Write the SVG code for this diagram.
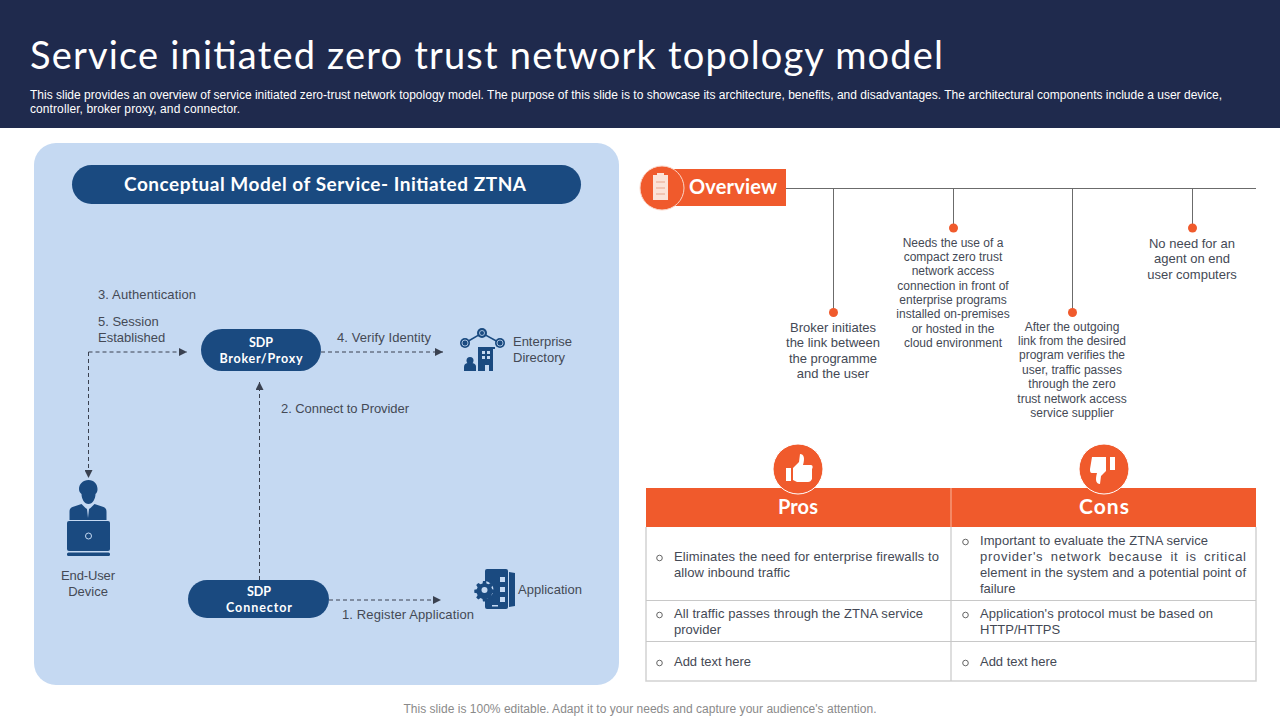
<svg xmlns="http://www.w3.org/2000/svg" width="1280" height="720" viewBox="0 0 1280 720">
<style>
text{font-family:"Liberation Sans",Arial,sans-serif;fill:#444955;font-size:13px}
.s{font-size:12px}
.c{text-anchor:middle}
.b{font-family:Lato,"Open Sans",sans-serif;font-weight:700;fill:#fff}
.ic{fill:#1a4a80}
.dash{fill:none;stroke:#3a4150;stroke-width:1;stroke-dasharray:4 3}
.ln{fill:none;stroke:#6b6b6b;stroke-width:1}
.gr{fill:none;stroke:#d2d2d2;stroke-width:1.5}
.dot{fill:#f05a2c}
.bul{fill:none;stroke:#555;stroke-width:.9}
</style>
<defs>
<marker id="a" markerWidth="8" markerHeight="8" refX="8" refY="4" orient="auto" markerUnits="userSpaceOnUse"><path d="M0 0L8 4L0 8Z" fill="#3a4150"/></marker>
</defs>
<rect width="1280" height="720" fill="#fff"/>
<g id="header">
<rect width="1280" height="128" fill="#1f2a4d"/>
<text x="30" y="69" textLength="913" lengthAdjust="spacing" style="font-family:Lato,sans-serif;font-weight:400;font-size:38px;fill:#fff">Service initiated zero trust network topology model</text>
<text x="30" y="99" textLength="1192" style="fill:#fff;font-size:12px">This slide provides an overview of service initiated zero-trust network topology model. The purpose of this slide is to showcase its architecture, benefits, and disadvantages. The architectural components include a user device,</text>
<text x="30" y="113" textLength="210" style="fill:#fff;font-size:12px">controller, broker proxy,  and connector.</text>
</g>
<g id="panel">
<rect x="34" y="143" width="585" height="542" rx="22" fill="#c5d9f2"/>
<rect x="72" y="165" width="509" height="39" rx="19.5" fill="#1a4a80"/>
<text class="c b" x="325" y="191" style="font-size:19px" textLength="402">Conceptual Model of Service- Initiated ZTNA</text>
</g>
<g id="connectors">
<path class="dash" d="M88.500 352V478" marker-end="url(#a)"/>
<path class="dash" d="M88.500 352H187" marker-end="url(#a)"/>
<path class="dash" d="M321 352H443" marker-end="url(#a)"/>
<path class="dash" d="M259.500 580V382" marker-end="url(#a)"/>
<path class="dash" d="M329 600H441" marker-end="url(#a)"/>
</g>
<g id="labels">
<text x="98" y="299" textLength="98">3. Authentication</text>
<text x="98" y="326">5. Session</text>
<text x="98" y="342">Established</text>
<text x="337" y="342" textLength="94">4. Verify Identity</text>
<text x="281" y="413" textLength="128">2. Connect to Provider</text>
<text x="342" y="619" textLength="132">1. Register Application</text>
</g>
<g id="broker">
<rect x="201" y="329" width="120" height="42" rx="21" fill="#1a4a80"/>
<text class="c b" x="261" y="347" style="font-size:12.500px" textLength="24">SDP</text>
<text class="c b" x="261" y="363" style="font-size:12.500px" textLength="83">Broker/Proxy</text>
</g>
<g id="connector-node">
<rect x="188" y="580" width="141" height="38" rx="19" fill="#1a4a80"/>
<text class="c b" x="259" y="596" style="font-size:12.500px" textLength="24">SDP</text>
<text class="c b" x="259" y="612" style="font-size:12.500px" textLength="66">Connector</text>
</g>
<g id="directory">
<path d="M465 343L482 333L500 343" fill="none" stroke="#1a4a80" stroke-width="1.500"/>
<g class="ic">
<circle cx="482" cy="333" r="5"/>
<circle cx="465" cy="343" r="5"/>
<circle cx="500" cy="343" r="5"/>
<path d="M478 347h17v2h-2v22h-4v-6h-4v6h-7z"/>
<path d="M464 371v-4c0-3 2-4 4-4h3c3 0 5 1 5 4v4z"/>
<circle cx="470" cy="360.500" r="3.500"/>
</g>
<path d="M482 351h3v3h-3zM487 351h3v3h-3zM482 356h3v3h-3zM487 356h3v3h-3z" fill="#c5d9f2"/>
<g fill="none" stroke="#c5d9f2" stroke-width=".8">
<circle cx="482" cy="333" r="2.500"/>
<circle cx="465" cy="343" r="3"/>
<circle cx="500" cy="343" r="3"/>
</g>
<text x="513" y="346" textLength="59">Enterprise</text>
<text x="513" y="362" textLength="52">Directory</text>
</g>
<g id="application">
<path class="ic" d="M509 572l6 1v33l-6 1z"/>
<rect class="ic" x="485" y="569" width="23" height="40" rx="2"/>
<path fill="#c5d9f2" d="M500 577h5v5h-5zM500 587h5v5h-5zM500 597h5v5h-5zM492 605h6v1.500h-6z"/>
<circle cx="484.500" cy="590" r="9" fill="#c5d9f2"/>
<path class="ic" d="M483 581h3l.5 2.500 2 .8 2.200-1.400 2.100 2.100-1.400 2.200.8 2 2.500.5v3l-2.500.5-.8 2 1.400 2.200-2.100 2.100-2.200-1.400-2 .8-.5 2.500h-3l-.5-2.500-2-.8-2.200 1.400-2.100-2.100 1.400-2.200-.8-2-2.500-.5v-3l2.500-.5.8-2-1.400-2.200 2.100-2.100 2.200 1.400 2-.8z"/>
<circle cx="484.500" cy="590" r="3" fill="#c5d9f2"/>
<text x="518" y="594" textLength="64">Application</text>
</g>
<g id="user">
<g class="ic">
<path d="M79 489c0-5 4-9 9.500-9s9 4 9 9c0 3-1 4-2 5 0 5-3 10-7 10s-7-5-7-10c-1-1-2.500-2-2.500-5z"/>
<path d="M69.500 520v-8c0-3 1-4 3-5l9-3 4 4 1.500 1 1 9 1-9 1.500-1 4-4 9 3c2 1 3 2 3 5v8z"/>
<rect x="67" y="521" width="43" height="30" rx="2"/>
<rect x="67" y="552.500" width="43" height="3.500" rx="1.500"/>
</g>
<circle cx="88.500" cy="536" r="3" fill="none" stroke="#c5d9f2" stroke-width="1"/>
<text class="c" x="88" y="580" textLength="54">End-User</text>
<text class="c" x="88" y="596">Device</text>
</g>
<g id="overview">
<rect x="660" y="169" width="126" height="37" fill="#f05a2c"/>
<circle cx="662" cy="188" r="22" fill="#f05a2c" stroke="#fbd5c7" stroke-width="1"/>
<path fill="#fbe3d8" d="M653 175h4v-2h7v2h4v25h-15z"/>
<path stroke="#e8a58c" stroke-width="1" d="M656 182h9M656 188h9M656 194h9"/>
<text class="b" x="689" y="194" style="font-size:20px" textLength="88">Overview</text>
<path class="ln" d="M786 188.500H1256M833.500 188.500V312M953.500 188.500V228M1072.500 188.500V312M1192.500 188.500V228"/>
<circle class="dot" cx="833.500" cy="312.500" r="4.500"/>
<circle class="dot" cx="953.500" cy="228" r="4.500"/>
<circle class="dot" cx="1072.500" cy="312.500" r="4.500"/>
<circle class="dot" cx="1192.500" cy="228" r="4.500"/>
</g>
<g id="item1">
<text class="c" x="833" y="332">Broker initiates</text>
<text class="c" x="833" y="347">the link between</text>
<text class="c" x="833" y="363">the programme</text>
<text class="c" x="833" y="378">and the user</text>
</g>
<g id="item2">
<text class="c s" x="953" y="247">Needs the use of a</text>
<text class="c s" x="953" y="261">compact zero trust</text>
<text class="c s" x="953" y="275">network access</text>
<text class="c s" x="953" y="290">connection in front of</text>
<text class="c s" x="953" y="304">enterprise programs</text>
<text class="c s" x="953" y="318">installed on-premises</text>
<text class="c s" x="953" y="333">or hosted in the</text>
<text class="c s" x="953" y="347">cloud environment</text>
</g>
<g id="item3">
<text class="c s" x="1072" y="331">After the outgoing</text>
<text class="c s" x="1072" y="345">link from the desired</text>
<text class="c s" x="1072" y="359">program verifies the</text>
<text class="c s" x="1072" y="374">user, traffic passes</text>
<text class="c s" x="1072" y="388">through the zero</text>
<text class="c s" x="1072" y="403">trust network access</text>
<text class="c s" x="1072" y="417">service supplier</text>
</g>
<g id="item4">
<text class="c" x="1192" y="248">No need for an</text>
<text class="c" x="1192" y="263">agent on end</text>
<text class="c" x="1192" y="279">user computers</text>
</g>
<g id="table">
<rect x="646" y="488" width="610" height="39" fill="#f05a2c"/>
<path class="gr" d="M646 527V681H1256V527"/>
<path d="M646 600.500H1256M646 641.500H1256M951 527V681" fill="none" stroke="#c8c8c8" stroke-width="1.200"/>
<path d="M951 488V527" stroke="#f7a88e" stroke-width="1.200"/>
<text class="c b" x="798" y="514" style="font-size:20px" textLength="40">Pros</text>
<text class="c b" x="1104" y="514" style="font-size:21px" textLength="50">Cons</text>
</g>
<g id="pros">
<circle cx="798" cy="469" r="25" fill="#f05a2c" stroke="#fff"/>
<path fill="#fff" d="M786 468h5v13h-5zM793 468l6-6 1-8c4 0 5 4 3 11h8c2 0 2 3 1 4v10c-1 2-2 3-4 3h-11l-4-2z"/>
<circle class="bul" cx="659.500" cy="558" r="2.800"/>
<text x="674" y="561" textLength="265">Eliminates the need for enterprise firewalls to</text>
<text x="674" y="577" textLength="116">allow inbound traffic</text>
<circle class="bul" cx="659.500" cy="615" r="2.800"/>
<text x="674" y="618" textLength="249">All traffic passes through the ZTNA service</text>
<text x="674" y="634">provider</text>
<circle class="bul" cx="659.500" cy="663" r="2.800"/>
<text x="674" y="666" textLength="77">Add text here</text>
</g>
<g id="cons">
<circle cx="1104" cy="469" r="25" fill="#f05a2c" stroke="#fff"/>
<path fill="#fff" d="M1110 457h5v13h-5zM1092 457h14v14l-5 5-1 8c-4 0-5-4-3-11h-5c-2 0-2-2-2-4z"/>
<circle class="bul" cx="965.500" cy="542" r="2.800"/>
<text x="980" y="545" textLength="228">Important to evaluate the ZTNA service</text>
<text x="980" y="561" textLength="266" style="word-spacing:3px">provider's  network because it is critical</text>
<text x="980" y="577" textLength="266">element in the system and a potential point of</text>
<text x="980" y="593">failure</text>
<circle class="bul" cx="965.500" cy="615" r="2.800"/>
<text x="980" y="618" textLength="233">Application's protocol must be based on</text>
<text x="980" y="634">HTTP/HTTPS</text>
<circle class="bul" cx="965.500" cy="663" r="2.800"/>
<text x="980" y="666" textLength="77">Add text here</text>
</g>
<text id="footer" class="c s" x="640" y="713" textLength="473" style="fill:#8a8a8a">This slide is 100% editable. Adapt it to your needs and capture your audience's attention.</text>
</svg>
